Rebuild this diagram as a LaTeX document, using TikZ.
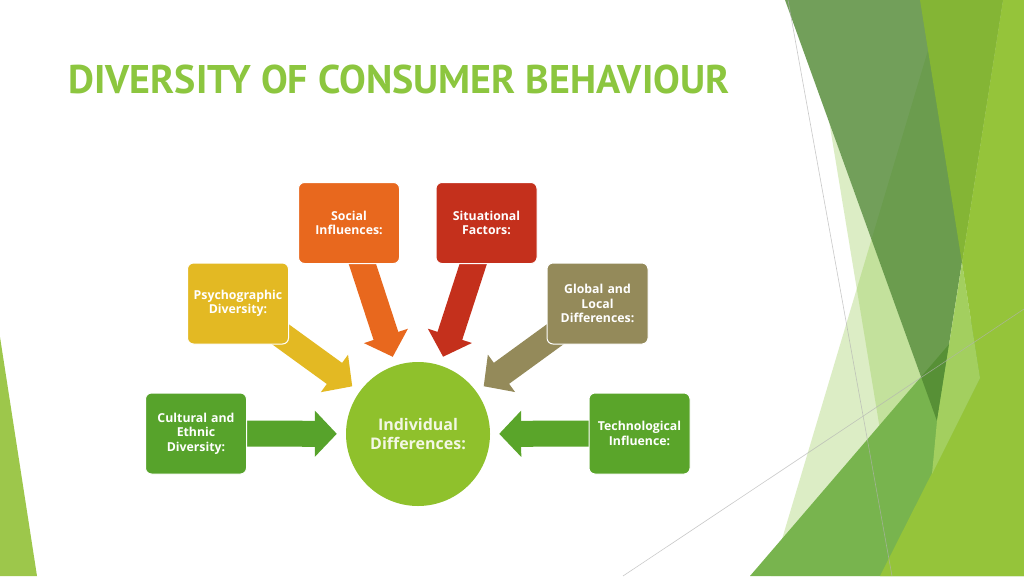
\documentclass[tikz,border=0pt]{standalone}
\usepackage{fontspec}
\setmainfont{PT Sans}
\newfontfamily\boxfont{Open Sans}
\usetikzlibrary{arrows.meta}

\definecolor{titlegreen}{HTML}{8CC63F}
\definecolor{socialcol}{HTML}{E8681E}
\definecolor{situcol}{HTML}{C4301C}
\definecolor{psycol}{HTML}{E3B923}
\definecolor{globalcol}{HTML}{948A5A}
\definecolor{cultcol}{HTML}{57A32B}
\definecolor{techcol}{HTML}{5AA52A}
\definecolor{indcol}{HTML}{8FC12C}
\definecolor{indtext}{HTML}{F3F7E4}
\definecolor{edgegreen}{HTML}{9DC74B}
\definecolor{midgreen}{HTML}{78B44E}
\definecolor{darkgreen}{HTML}{4F8831}
\definecolor{olivegreen}{HTML}{84B535}
\definecolor{brightgreen}{HTML}{95C43A}
\definecolor{lightgreen}{HTML}{A3CF5F}

\pgfdeclarelayer{deco}
\pgfdeclarelayer{arrowlayer}
\pgfsetlayers{deco,arrowlayer,main}

\begin{document}
\begin{tikzpicture}[x=1pt, y=-1pt,
    factor/.style={draw=white, line width=1pt, rounded corners=6pt, minimum width=101pt, minimum height=81pt,
        inner sep=1pt, text width=99pt, align=center, text=white, font=\boxfont\bfseries\fontsize{12.3}{14.5}\selectfont},
    blockarrow/.style={line width=26pt, -{Triangle[length=22pt, width=45pt]}, shorten >=9pt}
    ]
    \useasboundingbox (0,0) rectangle (1024,576);

    % Draw slide background
    \begin{pgfonlayer}{deco}
    \fill[white] (0,0) rectangle (1024,576);
    \fill[edgegreen] (0,337) -- (37,576) -- (0,576) -- cycle;
    \fill[titlegreen, opacity=0.3] (829.4,123) -- (937,421) -- (885,460) -- cycle;
    \fill[titlegreen, opacity=0.3] (943,0) -- (771,576) -- (1024,576) -- (1024,0) -- cycle;
    \fill[midgreen] (750,576) -- (1024,257) -- (1024,576) -- cycle;
    \fill[darkgreen, opacity=0.8] (785,0) -- (1003,0) -- (937,421) -- cycle;
    \fill[olivegreen] (920,0) -- (1003,0) -- (962,263) -- cycle;
    \fill[brightgreen] (1003,0) -- (1024,0) -- (1024,576) -- (880,576) -- (980,378) -- (962,263) -- cycle;
    \fill[lightgreen] (962,263) -- (980,378) -- (932,474) -- (937,421) -- cycle;
    \draw[black!30, line width=0.6pt, opacity=0.7] (788,0) -- (892,576);
    \draw[black!30, line width=0.6pt, opacity=0.7] (623,576) -- (1024,309);
    \end{pgfonlayer}

    % Draw title
    \node (title) [anchor=base west, text=titlegreen, font=\bfseries\fontsize{40}{44}\selectfont] at (65,93) {DIVERSITY OF CONSUMER BEHAVIOUR};

    % Draw factor boxes
    \node (soc) [factor, fill=socialcol] at (349,223) {Social\\Influences:};
    \node (sit) [factor, fill=situcol] at (486.5,223) {Situational\\Factors:};
    \node (psy) [factor, fill=psycol] at (238,303.5) {Psychographic\\Diversity:};
    \node (glo) [factor, fill=globalcol] at (597.5,303.5) {Global and\\Local\\Differences:};
    \node (cul) [factor, fill=cultcol] at (196,433.5) {Cultural and\\Ethnic\\Diversity:};
    \node (tec) [factor, fill=techcol] at (639.5,433.5) {Technological\\Influence:};

    % Draw centre circle
    \node (ind) [circle, fill=indcol, minimum size=144pt, inner sep=0pt, align=center, text=indtext,
        font=\boxfont\bfseries\fontsize{16}{19}\selectfont] at (418,434) {Individual\\Differences:};

    % Draw arrows into the circle
    \begin{pgfonlayer}{arrowlayer}
    \draw[blockarrow, cultcol] (cul.center) -- (ind);
    \draw[blockarrow, psycol] (psy.center) -- (ind);
    \draw[blockarrow, socialcol] (soc.center) -- (ind);
    \draw[blockarrow, situcol] (sit.center) -- (ind);
    \draw[blockarrow, globalcol] (glo.center) -- (ind);
    \draw[blockarrow, techcol] (tec.center) -- (ind);
    \end{pgfonlayer}
\end{tikzpicture}
\end{document}
